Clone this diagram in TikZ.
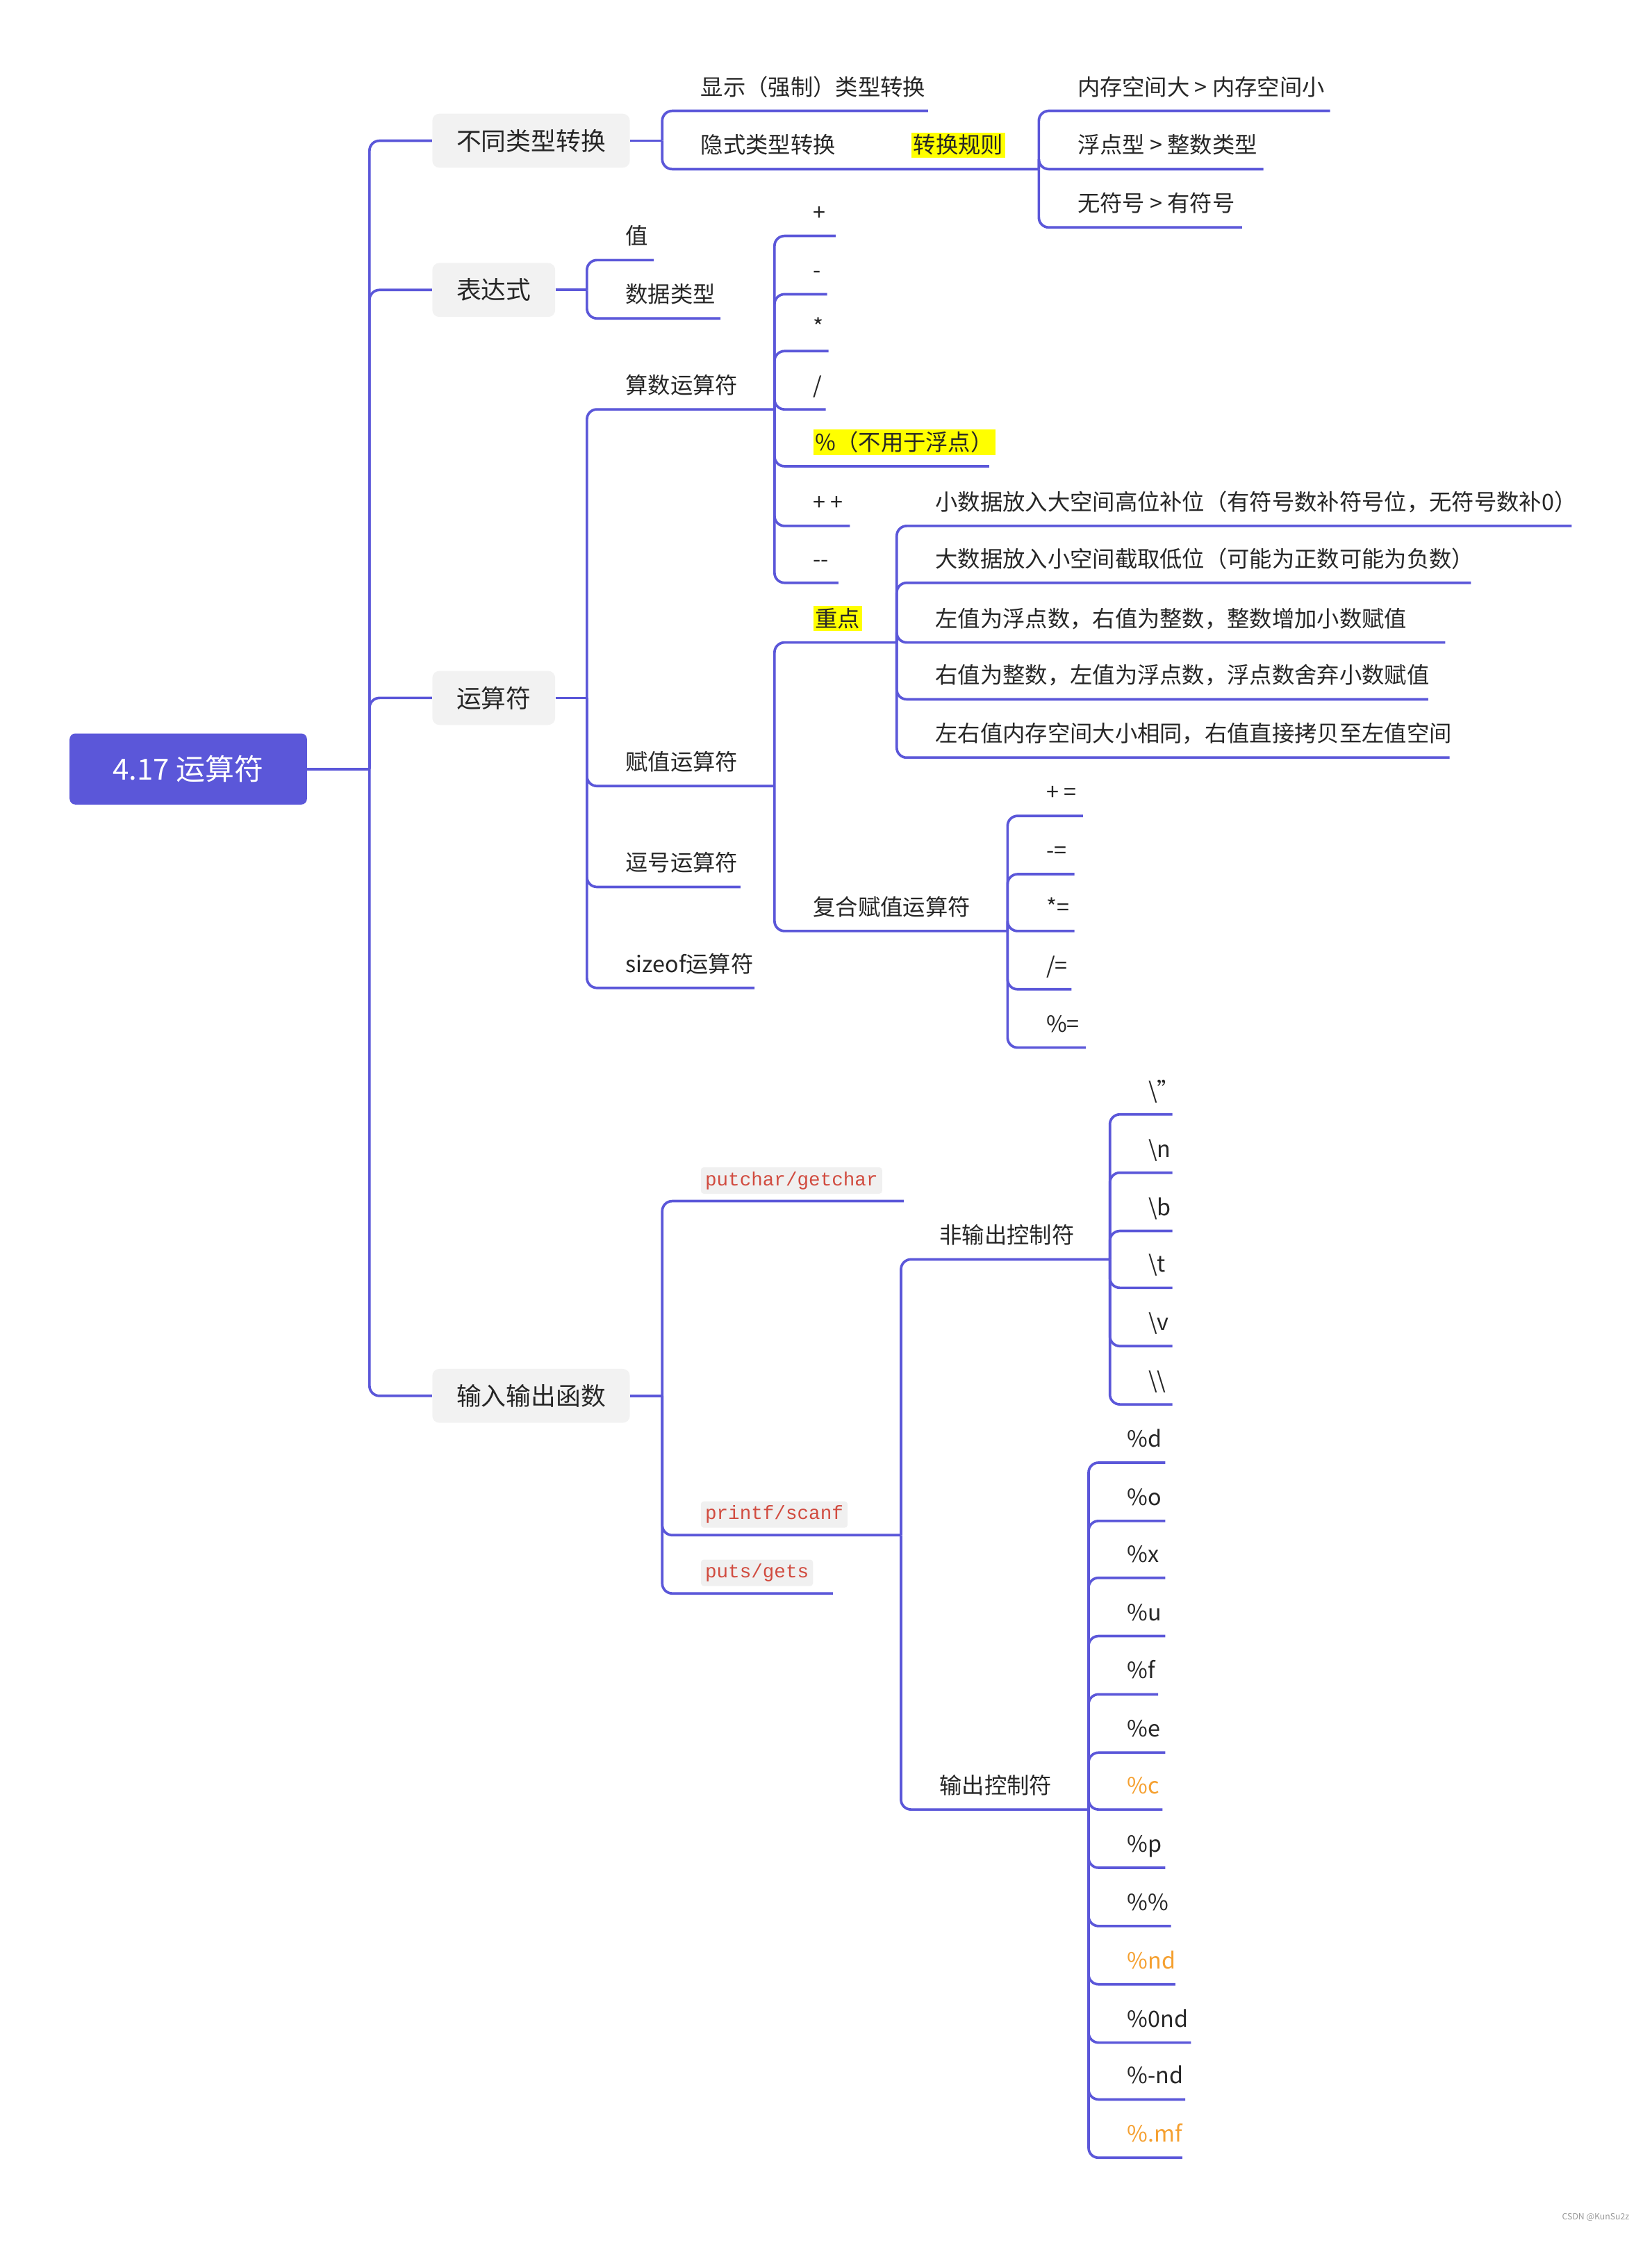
\documentclass[tikz,border=0pt]{standalone}
\usepackage{fontspec}
\setmainfont{Noto Sans CJK SC}
\newfontfamily\codefont{Liberation Mono}
\definecolor{ln}{HTML}{5B57D9}
\definecolor{hl}{HTML}{FFFF00}
\definecolor{org}{HTML}{F5A030}
\definecolor{code}{HTML}{D14B3F}
\tikzset{
 ln/.style={draw=ln,line width=1.8pt,rounded corners=7pt},
 txt/.style={inner sep=0pt,font=\fontsize{15.8}{18}\selectfont,text=black!85},
 hi/.style={fill=hl,inner sep=1.5pt},
 cd/.style={font=\codefont\fontsize{13.5}{15}\selectfont,text=code,fill=black!6,inner sep=3pt,rounded corners=2pt},
 og/.style={text=org},
 l1/.style={fill=black!5,rounded corners=5pt,minimum height=38pt,inner xsep=17pt,font=\fontsize{17.5}{20}\selectfont,text=black!85,anchor=west},
}
\newcommand\kid[7][]{%
 \node[txt,anchor=base west,#1] (#7) at (#2+27,#4-11) {#6};
 \draw[ln] (#2,#3) |- (#5,#4);}
\begin{document}
\begin{tikzpicture}[x=1pt,y=-1pt]
\useasboundingbox (0,0) rectangle (1162,1578);
\node[fill=ln,rounded corners=4pt,minimum width=167pt,minimum height=50pt,text=white,font=\fontsize{20.5}{24}\selectfont] (root) at (132.5,541) {4.17 运算符};
\draw[ln] (root.east) -- (260,541);
\node[l1] (a) at (304,99) {不同类型转换};
\node[l1] (b) at (304,204) {表达式};
\node[l1] (c) at (304,491) {运算符};
\node[l1] (d) at (304,982) {输入输出函数};
\foreach \n in {a,b,c,d} \draw[ln] (260,541) |- (\n.west);
% 不同类型转换
\draw[ln] (a.east) -- (466,99);
\kid{466}{99}{78}{653}{显示（强制）类型转换}{a1}
\kid{466}{99}{119}{731}{隐式类型转换}{a2}
\node[txt,hi,anchor=base west] (rule) at (641,108) {转换规则};
\kid{731}{119}{78}{936}{内存空间大 > 内存空间小}{r1}
\kid{731}{119}{119}{889}{浮点型 > 整数类型}{r2}
\kid{731}{119}{160}{874}{无符号 > 有符号}{r3}
% 表达式
\draw[ln] (b.east) -- (413,204);
\kid{413}{204}{183}{460}{值}{b1}
\kid{413}{204}{224}{507}{数据类型}{b2}
% 运算符
\draw[ln] (c.east) -- (413,491);
\kid{413}{491}{288}{545}{算数运算符}{c1}
\kid{413}{491}{553}{545}{赋值运算符}{c2}
\kid{413}{491}{624}{521}{逗号运算符}{c3}
\kid{413}{491}{695}{531}{sizeof运算符}{c4}
\kid{545}{288}{166}{588}{+}{o1}
\kid{545}{288}{207}{582}{-}{o2}
\kid{545}{288}{247}{583}{*}{o3}
\kid{545}{288}{288}{581}{/}{o4}
\kid[hi]{545}{288}{328}{696}{\%（不用于浮点）}{o5}
\kid{545}{288}{370}{598}{+ +}{o6}
\kid{545}{288}{410}{590}{-{}-}{o7}
\kid[hi]{545}{553}{452}{631}{重点}{z}
\kid{545}{553}{655}{709}{复合赋值运算符}{f}
\kid{631}{452}{370}{1106}{小数据放入大空间高位补位（有符号数补符号位，无符号数补0）}{z1}
\kid{631}{452}{410}{1035}{大数据放入小空间截取低位（可能为正数可能为负数）}{z2}
\kid{631}{452}{452}{1017}{左值为浮点数，右值为整数，整数增加小数赋值}{z3}
\kid{631}{452}{492}{1005}{右值为整数，左值为浮点数，浮点数舍弃小数赋值}{z4}
\kid{631}{452}{533}{1020}{左右值内存空间大小相同，右值直接拷贝至左值空间}{z5}
\kid{709}{655}{574}{762}{+ =}{f1}
\kid{709}{655}{615}{756}{-=}{f2}
\kid{709}{655}{655}{756}{*=}{f3}
\kid{709}{655}{696}{754}{/=}{f4}
\kid{709}{655}{737}{764}{\%=}{f5}
% 输入输出函数
\draw[ln] (d.east) -- (466,982);
\kid[cd]{466}{982}{845}{636}{putchar/getchar}{d1}
\kid[cd]{466}{982}{1080}{634}{printf/scanf}{d2}
\kid[cd]{466}{982}{1121}{586}{puts/gets}{d3}
\kid{634}{1080}{886}{781}{非输出控制符}{p1}
\kid{634}{1080}{1273}{766}{输出控制符}{p2}
\kid{781}{886}{784}{825}{\textbackslash\char34}{e1}
\kid{781}{886}{825}{825}{\textbackslash n}{e2}
\kid{781}{886}{866}{825}{\textbackslash b}{e3}
\kid{781}{886}{906}{825}{\textbackslash t}{e4}
\kid{781}{886}{947}{825}{\textbackslash v}{e5}
\kid{781}{886}{988}{825}{\textbackslash\textbackslash}{e6}
\kid{766}{1273}{1029}{820}{\%d}{g1}
\kid{766}{1273}{1070}{820}{\%o}{g2}
\kid{766}{1273}{1110}{820}{\%x}{g3}
\kid{766}{1273}{1151}{820}{\%u}{g4}
\kid{766}{1273}{1192}{815}{\%f}{g5}
\kid{766}{1273}{1233}{820}{\%e}{g6}
\kid[og]{766}{1273}{1273}{818}{\%c}{g7}
\kid{766}{1273}{1314}{820}{\%p}{g8}
\kid{766}{1273}{1355}{824}{\%\%}{g9}
\kid[og]{766}{1273}{1396}{827}{\%nd}{g10}
\kid{766}{1273}{1437}{838}{\%0nd}{g11}
\kid{766}{1273}{1477}{834}{\%-nd}{g12}
\kid[og]{766}{1273}{1518}{832}{\%.mf}{g13}
\node[font=\fontsize{6}{7}\selectfont,text=black!40,anchor=east] (wm) at (1150,1560) {CSDN @KunSu2z};
\end{tikzpicture}
\end{document}
